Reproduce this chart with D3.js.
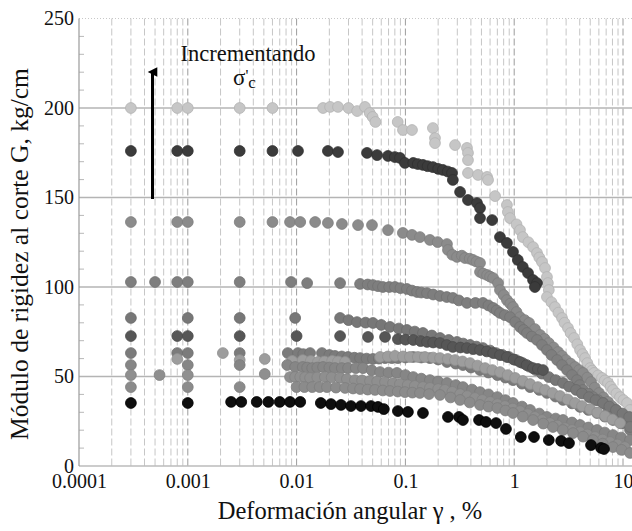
<!DOCTYPE html>
<html>
<head>
<meta charset="utf-8">
<script src="https://cdn.jsdelivr.net/npm/d3@7"></script>
<style>
  body { margin: 0; background: #fff; }
  svg { display: block; }
  text { font-family: "Liberation Serif", "Times New Roman", serif; fill: #111; }
</style>
</head>
<body>
<svg id="chart" width="632" height="531"></svg>
<script>
// Axis ticks
const xTicks = [0.0001, 0.001, 0.01, 0.1, 1, 10];
const xTickLabels = ["0.0001", "0.001", "0.01", "0.1", "1", "10"];
const yTicks = [0, 50, 100, 150, 200, 250];
const yMinorTicks = [10, 20, 30, 40, 60, 70, 80, 90, 110, 120, 130, 140, 160, 170, 180, 190, 210, 220, 230, 240];

// Shear modulus G (kg/cm) vs angular strain γ (%), one array per confining stress
const g200 = [[0.0003,200],[0.0008,200],[0.001,200],[0.003,200],[0.006,200],[0.0175,200],[0.0203,200.6],[0.024,200.6],[0.030,200],[0.036,198.3],[0.0425,200.6],[0.047,197.2],[0.050,195],[0.053,192.2],[0.085,192.2],[0.095,187.7],[0.115,187.7],[0.179,188.8],[0.187,183.2],[0.187,180.4],[0.286,179.3],[0.368,177.7],[0.376,174.9],[0.376,170.9],[0.376,163.7],[0.465,162.6],[0.563,161.5],[0.575,159.8],[0.667,150.8],[0.857,145.8],[0.875,141.9],[0.915,138.5],[1.05,135],[1.13,131.8],[1.20,127.9],[1.35,125],[1.49,122.3],[1.62,119.0],[1.7,116.5],[1.80,114.0],[1.92,110.6],[2.00,105.6],[2.04,102.2],[2.08,98.3],[2.00,94.4],[2.2,91.5],[2.37,88.8],[2.55,85.7],[2.75,82.7],[2.9,80],[3.12,77.1],[3.3,74.3],[3.55,71.5],[3.8,68],[4.03,64.8],[4.25,62.5],[4.48,60.3],[4.7,57.5],[4.98,54.7],[5.2,53.3],[5.42,52.0],[5.9,50.6],[6.41,49.2],[6.8,47.8],[7.28,46.4],[7.7,44.4],[8.09,42.5],[8.7,40.5],[9.38,38.5],[10.1,36.8],[10.9,35.2],[11.6,31.3]];
const g176 = [[0.0003,176],[0.0008,176],[0.001,176],[0.003,176],[0.006,176],[0.0103,176],[0.0194,176],[0.024,175.4],[0.0444,174.9],[0.0549,173.7],[0.0692,173.2],[0.080,172.6],[0.0891,172.1],[0.099,169.3],[0.118,169.3],[0.13,168.7],[0.145,168.2],[0.16,167.5],[0.179,167.0],[0.2,166],[0.221,165.4],[0.245,164.5],[0.268,163.7],[0.273,159.8],[0.318,153.1],[0.376,148.6],[0.455,146.9],[0.485,144.1],[0.485,138.5],[0.627,137.4],[0.740,127.9],[0.857,124.6],[0.975,119.6],[1.08,115.1],[1.20,111.2],[1.34,107.8],[1.49,103.9],[1.62,102.2],[1.55,100.0]];
const g136 = [[0.0003,136.3],[0.0008,136.3],[0.001,136.3],[0.003,136.3],[0.006,136.3],[0.0087,136.3],[0.0108,136.3],[0.0148,136.3],[0.0194,135.8],[0.0261,135.2],[0.0367,134.6],[0.0493,134.6],[0.0692,131.8],[0.0948,130.2],[0.115,129.1],[0.136,127.9],[0.168,126.3],[0.198,125.1],[0.241,124.0],[0.246,120.7],[0.27,118],[0.298,116.8],[0.33,117.5],[0.353,116.2],[0.39,115.8],[0.418,115.1],[0.45,114.2],[0.485,113.4],[0.485,108.4],[0.52,107.5],[0.563,106.7],[0.6,105.8],[0.640,105.0],[0.710,102.2],[0.74,98.3],[0.8,95.5],[0.857,92.7],[0.92,90.7],[0.975,88.8],[1.05,86],[1.13,83.2],[1.25,81.5],[1.37,79.9],[1.55,76.5],[1.73,73.2],[1.9,71],[2.08,68.7],[2.3,66.2],[2.53,63.7],[2.75,61.5],[2.99,59.2],[3.3,57.2],[3.62,55.3],[3.95,53.6],[4.29,52.0],[4.7,49.4],[5.08,46.9],[5.5,43.8],[6.02,40.8],[6.6,38.3],[7.28,35.8],[7.9,33.5],[8.62,31.3],[9.5,29],[10.4,26.8],[12.1,23.5]];
const g103 = [[0.0003,102.8],[0.0005,102.8],[0.0008,102.8],[0.001,102.8],[0.003,102.8],[0.0089,102.8],[0.0125,102.2],[0.0251,102.2],[0.0383,101.7],[0.045,101.4],[0.0503,101.1],[0.056,100.5],[0.0621,100],[0.071,100],[0.0802,100],[0.09,99.4],[0.1033,98.9],[0.115,98],[0.128,97.2],[0.14,96.9],[0.158,96.6],[0.18,95.8],[0.208,95.0],[0.24,94.4],[0.273,93.9],[0.31,92.5],[0.368,91.1],[0.44,91.1],[0.516,91.1],[0.58,89.7],[0.640,88.3],[0.69,86.9],[0.740,85.5],[0.82,84.3],[0.915,83.2],[1.02,80.4],[1.13,77.7],[1.22,76],[1.31,74.3],[1.45,72.3],[1.62,70.4],[1.8,67.6],[2.0,64.8],[2.2,62],[2.48,59.2],[2.75,56.4],[3.06,53.6],[3.4,50.8],[3.78,48.0],[4.0,45.2],[4.29,42.5],[4.8,40.5],[5.30,38.5],[5.9,36.8],[6.55,35.2],[7.3,32.4],[8.09,29.6],[9.0,26.8],[10.0,24.0],[11.6,20.1]];
const g82 = [[0.0003,82.7],[0.001,82.7],[0.003,82.7],[0.0097,82.7],[0.0251,82.7],[0.03,81.5],[0.0359,80.4],[0.043,80.1],[0.0503,79.9],[0.06,78.8],[0.0721,77.7],[0.087,76.8],[0.1033,76.0],[0.122,75.1],[0.145,74.3],[0.175,72.9],[0.208,71.5],[0.25,70.4],[0.298,69.3],[0.34,68.4],[0.393,67.6],[0.45,66.7],[0.516,65.9],[0.6,64.5],[0.681,63.1],[0.78,62],[0.895,60.9],[1.04,59.2],[1.20,57.5],[1.38,55.5],[1.58,53.6],[1.8,51.6],[2.08,49.7],[2.4,48],[2.81,46.4],[3.2,44.4],[3.70,42.5],[4.2,40.5],[4.87,38.5],[5.6,36.8],[6.55,35.2],[7.5,33.2],[8.62,31.3],[9.9,29.3],[11.4,27.4]];
const g72 = [[0.0003,72.6],[0.0008,72.6],[0.001,72.6],[0.003,72.6],[0.01,72.6],[0.0251,72.6],[0.0453,72.1],[0.065,72.1],[0.0853,70.9],[0.1,70.6],[0.118,70.4],[0.138,69.8],[0.158,69.3],[0.18,69],[0.208,68.7],[0.24,67.6],[0.273,66.5],[0.32,66.2],[0.368,65.9],[0.42,65.3],[0.485,64.8],[0.56,64],[0.640,63.1],[0.74,62],[0.857,60.9],[0.99,59.5],[1.13,58.1],[1.3,56.4],[1.49,54.7],[1.65,54.2],[1.84,53.6]];
const g63 = [[0.0003,63.1],[0.0008,63.1],[0.001,63.1],[0.003,63.1],[0.0083,63.1],[0.0103,63.1],[0.0115,62.5],[0.0133,63.1],[0.0171,63.1],[0.02,62],[0.0225,61.5],[0.026,61.2],[0.0297,60.9],[0.034,60.5],[0.0383,60.3],[0.044,60],[0.0503,59.8],[0.057,60],[0.065,60.3],[0.075,60.3],[0.0853,60.3],[0.1,60.6],[0.118,60.9],[0.14,60.6],[0.168,60.3],[0.2,59.5],[0.241,58.1],[0.29,57.2],[0.338,56.4],[0.4,55],[0.485,53.6],[0.58,52.2],[0.70,50.8],[0.83,49.4],[0.975,48.0],[1.18,46],[1.40,44.1],[1.7,42.5],[2.0,40.8],[2.4,38.8],[2.81,36.9],[3.4,35],[4.03,33.0],[4.8,31.3],[5.77,29.6],[6.8,27.6],[8.09,25.7],[9.6,23.8],[11.6,21.8]];
const g59 = [[0.0008,59.8],[0.0021,63.1],[0.003,59.2],[0.0051,59.8],[0.0091,58.7],[0.0114,59.2],[0.0135,58.7],[0.0157,58.1],[0.018,58.4],[0.0212,58.7],[0.024,58.4],[0.0279,58.1],[0.0585,60.9],[0.069,61.2],[0.0802,61.5],[0.095,61.2],[0.110,60.9],[0.13,60.9],[0.151,60.9],[0.18,60.6],[0.208,60.3],[0.245,59.8],[0.286,59.2],[0.335,58.4],[0.393,57.5],[0.46,56.1],[0.54,54.7],[0.63,53.6],[0.74,52.5],[0.87,50.8],[1.02,49.2],[1.2,47.5],[1.40,45.8],[1.65,44.1],[1.92,42.5],[2.25,40.8],[2.64,39.1],[3.1,37.2],[3.62,35.2],[4.2,33.5],[4.98,31.8],[5.8,29.9],[6.84,27.9],[8.0,26],[9.38,24.0]];
const g56 = [[0.0003,56.4],[0.001,56.4],[0.003,56.4],[0.0082,56.4],[0.0097,55.3],[0.0114,55.3],[0.0125,55],[0.0139,54.7],[0.0155,55],[0.0175,55.3],[0.02,55],[0.0225,54.7],[0.026,54.7],[0.0297,54.7],[0.035,54.7],[0.0408,54.7],[0.049,53.5],[0.0585,52.5],[0.07,52.2],[0.0836,52.0],[0.1,50.8],[0.118,49.7],[0.14,48.8],[0.168,48.0],[0.2,47.2],[0.241,46.4],[0.29,45.2],[0.338,44.1],[0.41,42.7],[0.485,41.3],[0.58,40],[0.70,38.5],[0.83,36.8],[0.975,35.2],[1.18,33.2],[1.40,31.3],[1.7,29.3],[2.0,27.4],[2.4,26.5],[2.81,25.7],[3.4,24.3],[4.03,22.9],[4.8,21.5],[5.77,20.1],[6.8,18.7],[8.09,17.3],[9.6,15.9],[11.6,14.5]];
const g51 = [[0.0003,50.8],[0.00055,50.8],[0.001,50.8],[0.0051,51.4],[0.0087,49.7],[0.0097,49.7],[0.0108,49.7],[0.012,49.5],[0.0133,49.2],[0.0155,49.5],[0.0182,49.7],[0.021,49.5],[0.0251,49.2],[0.029,48.6],[0.0344,48.0],[0.04,47.8],[0.0473,47.5],[0.055,47.2],[0.065,46.9],[0.077,46.3],[0.0891,45.8],[0.105,45.2],[0.122,44.7],[0.145,44.1],[0.168,43.6],[0.2,43],[0.231,42.5],[0.27,41.4],[0.318,40.2],[0.37,39.1],[0.436,38.0],[0.51,36.9],[0.60,35.8],[0.7,34.6],[0.823,33.5],[0.97,32.1],[1.13,30.7],[1.33,29],[1.55,27.4],[1.8,25.7],[2.13,24.0],[2.5,22.6],[2.93,21.2],[3.4,20.1],[4.03,19.0],[4.7,17.6],[5.53,16.2],[6.5,14.8],[7.60,13.4],[8.9,12],[10.4,10.6]];
const g44 = [[0.0003,44.1],[0.001,44.1],[0.003,44.1],[0.01,44.1],[0.0118,44.1],[0.0139,44.1],[0.0163,44.1],[0.019,44.1],[0.023,43.8],[0.0279,43.6],[0.033,43.3],[0.0383,43.0],[0.045,42.7],[0.0526,42.5],[0.062,42.2],[0.0721,41.9],[0.085,41.6],[0.0991,41.3],[0.116,41],[0.136,40.8],[0.165,40.2],[0.208,39.7],[0.26,38.3],[0.318,36.9],[0.39,35.5],[0.485,34.1],[0.58,33.2],[0.70,32.4],[0.83,31],[0.975,29.6],[1.2,27.6],[1.49,25.7],[1.85,23.7],[2.27,21.8],[2.8,20.1],[3.47,18.4],[4.3,16.4],[5.30,14.5],[6.5,12.5],[8.09,10.6],[9.7,9],[11.6,7.3]];
const g35 = [[0.0003,35.2],[0.001,35.2],[0.0025,35.8],[0.0031,35.8],[0.0043,35.8],[0.0055,35.8],[0.007,35.8],[0.0087,35.8],[0.0108,35.8],[0.0167,35.2],[0.0207,34.6],[0.0256,34.1],[0.0316,33.5],[0.0391,33.5],[0.0483,33.5],[0.056,33.0],[0.0634,31.8],[0.0853,30.7],[0.1055,30.2],[0.145,29.6],[0.246,27.4],[0.311,27.4],[0.338,25.7],[0.475,25.7],[0.551,24.6],[0.681,24.0],[0.84,20.7],[1.15,16.2],[1.52,16.2],[2.08,14.5],[2.70,14.0],[3.19,12.8],[5.08,11.7],[6.28,10.1],[6.69,9.5]];

const series = [
  { data: g200, fill: "#c6c6c6", stroke: "#b2b2b2" },
  { data: g176, fill: "#3b3b3b", stroke: "#303030" },
  { data: g136, fill: "#8b8b8b", stroke: "#7d7d7d" },
  { data: g103, fill: "#7e7e7e", stroke: "#717171" },
  { data: g82,  fill: "#777777", stroke: "#6a6a6a" },
  { data: g72,  fill: "#565656", stroke: "#4a4a4a" },
  { data: g63,  fill: "#7b7b7b", stroke: "#6e6e6e" },
  { data: g59,  fill: "#9d9d9d", stroke: "#8f8f8f" },
  { data: g56,  fill: "#868686", stroke: "#797979" },
  { data: g51,  fill: "#8f8f8f", stroke: "#828282" },
  { data: g44,  fill: "#8b8b8b", stroke: "#7e7e7e" },
  { data: g35,  fill: "#0e0e0e", stroke: "#000000" }
];

const serif = "'Liberation Serif', 'Times New Roman', serif";
const plotLeft = 79, plotRight = 632, plotTop = 18.5, plotBottom = 466;

const svg = d3.select("#chart");
const x = d3.scaleLog().domain([1e-4, 10]).range([plotLeft, 623]);
const y = d3.scaleLinear().domain([0, 250]).range([plotBottom, plotTop]);

// Grid reaching the right edge of the frame
const xGrid = x.copy().domain([1e-4, x.invert(plotRight)]).range([plotLeft, plotRight]);
const gridVals = xGrid.ticks().filter(v => v > 1e-4);
const isDecade = v => Math.abs(Math.log10(v) - Math.round(Math.log10(v))) < 1e-6;

const grid = svg.append("g");
grid.selectAll("line.v").data(gridVals).join("line")
  .attr("x1", d => x(d)).attr("x2", d => x(d))
  .attr("y1", plotTop).attr("y2", plotBottom)
  .attr("stroke", d => isDecade(d) ? "#9c9c9c" : "#c6c6c6")
  .attr("stroke-width", 1)
  .attr("stroke-dasharray", "7,3");

grid.selectAll("line.h").data(yTicks.filter(v => v > 0 && v < 250)).join("line")
  .attr("x1", plotLeft).attr("x2", plotRight)
  .attr("y1", d => y(d)).attr("y2", d => y(d))
  .attr("stroke", "#b4b4b4").attr("stroke-width", 1.3);

// dotted top border
grid.append("line")
  .attr("x1", plotLeft).attr("x2", plotRight).attr("y1", y(250)).attr("y2", y(250))
  .attr("stroke", "#c8c8c8").attr("stroke-width", 1).attr("stroke-dasharray", "1,2");

// minor ticks on the value axis
grid.selectAll("line.m").data(yMinorTicks).join("line")
  .attr("x1", plotLeft).attr("x2", plotLeft + 5)
  .attr("y1", d => y(d)).attr("y2", d => y(d))
  .attr("stroke", "#b8b8b8").attr("stroke-width", 1);

// axis lines
grid.append("line").attr("x1", plotLeft).attr("x2", plotLeft).attr("y1", plotTop).attr("y2", plotBottom)
  .attr("stroke", "#9a9a9a").attr("stroke-width", 1.2);
grid.append("line").attr("x1", plotLeft).attr("x2", plotRight).attr("y1", plotBottom).attr("y2", plotBottom)
  .attr("stroke", "#9a9a9a").attr("stroke-width", 1.2);

// points
const pts = svg.append("g");
series.forEach(s => {
  pts.append("g").selectAll("circle").data(s.data).join("circle")
    .attr("cx", d => x(d[0]))
    .attr("cy", d => y(d[1]))
    .attr("r", 5.4)
    .attr("fill", s.fill)
    .attr("stroke", s.stroke)
    .attr("stroke-width", 0.8);
});

// axes labels
const xAxis = svg.append("g").attr("transform", `translate(0,${plotBottom})`)
  .call(d3.axisBottom(x).tickValues(xTicks).tickFormat((d, i) => xTickLabels[i]).tickSize(0).tickPadding(8));
xAxis.select(".domain").remove();
xAxis.selectAll("text").attr("font-size", 20).attr("font-family", serif).attr("fill", "#111");

const yAxis = svg.append("g").attr("transform", `translate(${plotLeft},0)`)
  .call(d3.axisLeft(y).tickValues(yTicks).tickSize(0).tickPadding(5));
yAxis.select(".domain").remove();
yAxis.selectAll("text").attr("font-size", 20).attr("font-family", serif).attr("fill", "#111");

svg.append("text")
  .attr("x", 350).attr("y", 519)
  .attr("text-anchor", "middle")
  .attr("font-family", serif)
  .attr("font-size", 24.5)
  .text("Deformación angular γ , %");

svg.append("text")
  .attr("transform", "translate(28,254) rotate(-90)")
  .attr("text-anchor", "middle")
  .attr("font-family", serif)
  .attr("font-size", 25.5)
  .text("Módulo de rigidez al corte G, kg/cm");

// annotation: increasing confining stress
svg.append("text")
  .attr("x", 248).attr("y", 61)
  .attr("text-anchor", "middle")
  .attr("font-family", serif)
  .attr("font-size", 22.5)
  .text("Incrementando");

const sig = svg.append("text").attr("x", 233).attr("y", 85)
  .attr("font-family", serif).attr("font-size", 23);
sig.append("tspan").text("σ");
sig.append("tspan").attr("font-size", 16).attr("dy", -4).text("'");
sig.append("tspan").attr("font-size", 17).attr("dy", 7).text("c");

svg.append("defs").append("marker")
  .attr("id", "head").attr("viewBox", "0 0 10 10")
  .attr("refX", 5).attr("refY", 5)
  .attr("markerWidth", 3.2).attr("markerHeight", 3.4)
  .attr("orient", "auto")
  .append("path").attr("d", "M0,10 L5,0 L10,10 Z").attr("fill", "#000");

svg.append("line")
  .attr("x1", 152.5).attr("x2", 152.5)
  .attr("y1", 199).attr("y2", 72)
  .attr("stroke", "#000").attr("stroke-width", 3)
  .attr("marker-end", "url(#head)");
</script>
</body>
</html>
